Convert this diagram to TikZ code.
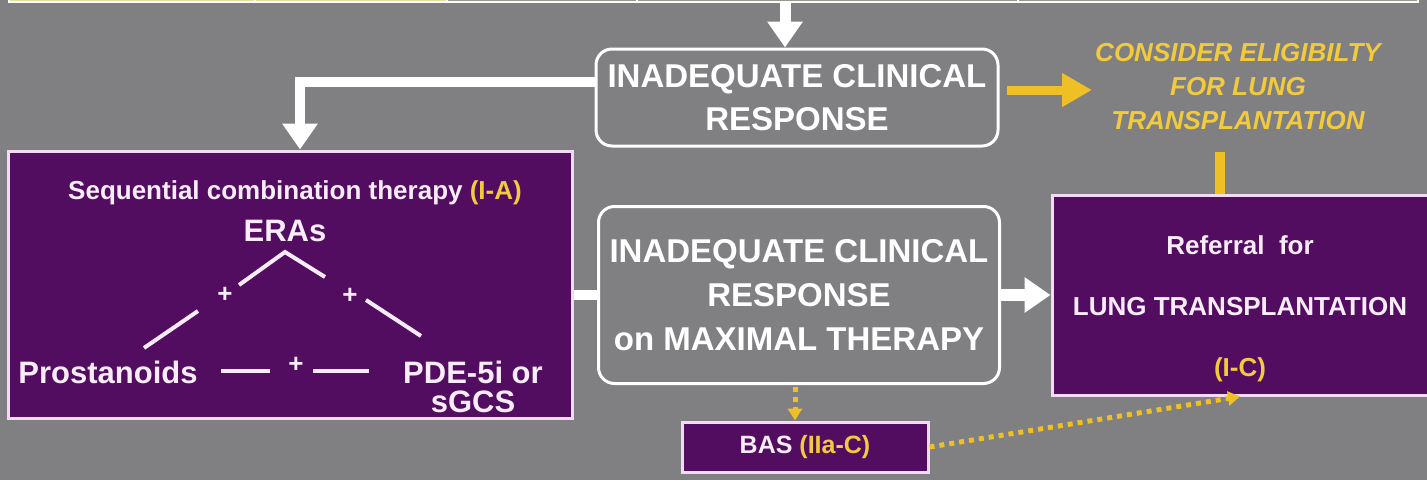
\documentclass[tikz,border=0pt]{standalone}
\usepackage{fontspec}
\setmainfont{Liberation Sans}
\usetikzlibrary{arrows.meta}
\definecolor{bg}{RGB}{128,127,130}
\definecolor{purp}{RGB}{82,12,96}
\definecolor{yel}{RGB}{238,192,38}
\definecolor{ytext}{RGB}{242,202,62}
\definecolor{pinkb}{RGB}{242,218,242}
\definecolor{ptext}{RGB}{250,236,250}
\definecolor{pyel}{RGB}{228,224,160}
\definecolor{pgrey}{RGB}{150,154,140}
\tikzset{
  wline/.style={draw=white, line width=10pt},
  warrow/.style={wline, -{Triangle[width=34pt,length=26pt]}},
  yarrow/.style={draw=yel, line width=9pt, -{Triangle[width=32pt,length=30pt]}},
  ydots/.style={draw=yel, line width=5pt, dash pattern=on 5pt off 5pt, -{Triangle[width=14pt,length=12pt]}},
  rbox/.style={draw=white, line width=3pt, rounded corners=16pt, inner sep=0pt,
    text=white, align=center, font=\bfseries\fontsize{33}{43}\selectfont},
  pbox/.style={draw=pinkb, line width=3pt, fill=purp, inner sep=0pt},
  ptxt/.style={text=ptext, align=center, inner sep=0pt, font=\bfseries\fontsize{26}{28}\selectfont},
  bigtxt/.style={text=ptext, align=center, inner sep=0pt, font=\bfseries\fontsize{31}{29}\selectfont},
  tline/.style={draw=ptext, line width=4pt},
  strip/.style={draw=white, line width=1.5pt}
}
\begin{document}
\begin{tikzpicture}[x=1pt,y=-1pt]
\useasboundingbox (0,0) rectangle (1427,480);
\fill[bg] (0,0) rectangle (1427,480);
% top strip
\draw[strip, fill=pyel] (9,-10) rectangle (255,2);
\draw[strip, fill=pyel] (255,-10) rectangle (447,2);
\draw[strip, fill=pgrey] (447,-10) rectangle (637,2);
\draw[strip, fill=pgrey] (637,-10) rectangle (1018,2);
\draw[strip, fill=pgrey] (1018,-10) rectangle (1418,2);

% boxes
\node[rbox, minimum width=402pt, minimum height=97pt] (box1) at (797,97.5)
  {INADEQUATE CLINICAL\\RESPONSE};
\node[rbox, minimum width=401pt, minimum height=177pt, font=\bfseries\fontsize{33}{44}\selectfont] (box3) at (799,295)
  {INADEQUATE CLINICAL\\RESPONSE\\on MAXIMAL THERAPY};
\node[pbox, minimum width=564pt, minimum height=267pt] (box2) at (290,284.5) {};
\node[pbox, minimum width=376pt, minimum height=200pt] (ref) at (1240,295) {};
\node[pbox, minimum width=246pt, minimum height=50pt] (bas) at (805,447) {};

% referral text
\node[ptxt, font=\bfseries\fontsize{26}{61}\selectfont] (reft) at (1240,309)
  {Referral\ \ for\\LUNG TRANSPLANTATION\\\textcolor{ytext}{(I-C)}};
\node[ptxt, font=\bfseries\fontsize{25}{28}\selectfont] (bast) at (805,447)
  {BAS \textcolor{ytext}{(IIa-C)}};

% consider
\node[text=ytext, align=center, inner sep=0pt, font=\bfseries\itshape\fontsize{26}{34}\selectfont] (cons) at (1238,87)
  {CONSIDER ELIGIBILTY\\FOR LUNG\\TRANSPLANTATION};

% box2 content
\node[ptxt] (title) at (295,193) {Sequential combination therapy \textcolor{ytext}{(I-A)}};
\node[bigtxt] (eras) at (285,231) {ERAs};
\node[bigtxt] (pros) at (108,372) {Prostanoids};
\node[bigtxt] (pde) at (473,387) {PDE-5i or\\sGCS};
\node[ptxt] (p1) at (225,295) {+};
\node[ptxt] (p2) at (350,296) {+};
\node[ptxt] (p3) at (296,365) {+};
\coordinate (ca) at (239,285);
\coordinate (cb) at (285,252);
\coordinate (cc) at (325,277);
\draw[tline] (ca) -- (cb) -- (cc);
\coordinate (la) at (144,348);
\coordinate (lb) at (198,311);
\draw[tline] (la) -- (lb);
\coordinate (ra) at (366,300);
\coordinate (rb) at (421,336);
\draw[tline] (ra) -- (rb);
\coordinate (ha) at (221,371);
\coordinate (hb) at (270,371);
\draw[tline] (ha) -- (hb);
\coordinate (hc) at (313,371);
\coordinate (hd) at (369,371);
\draw[tline] (hc) -- (hd);

% connectors
\coordinate (topc) at (785,2);
\draw[warrow, line width=11pt] (topc) -- (topc |- box1.north);
\coordinate (lj) at (300,82);
\draw[warrow] (box1.west |- lj) -- (lj) -- (lj |- box2.north);
\coordinate (ya) at (1092,90);
\draw[yarrow, shorten <=7pt] (box1.east |- ya) -- (ya);
\coordinate (vb) at (1220,152);
\draw[draw=yel, line width=10pt] (vb) -- (vb |- ref.north);
\draw[wline] (box2.east |- box3.west) -- (box3.west);
\draw[warrow, line width=12pt] (box3.east) -- (ref.west);
\coordinate (bd) at (795,387);
\draw[ydots] (bd) -- (bd |- bas.north);
\draw[ydots] (bas.east) -- (ref.south);
\end{tikzpicture}
\end{document}
